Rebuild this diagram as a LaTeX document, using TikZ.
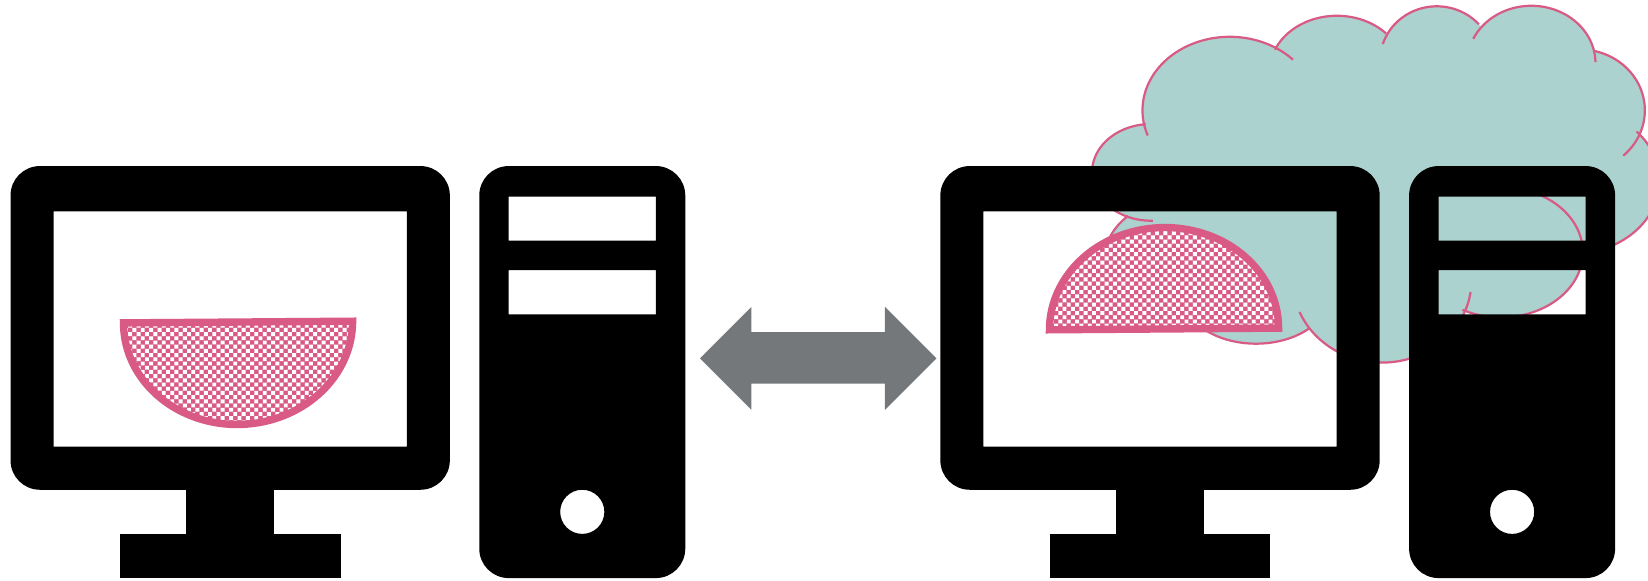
\documentclass[tikz,border=0pt]{standalone}
\definecolor{cloudteal}{HTML}{ABD2CF}
\definecolor{rosepink}{HTML}{D85A85}
\definecolor{arrowgray}{HTML}{75787A}
\tikzset{
  x=1pt,y=-1pt,
  lobeline/.style={draw=rosepink,line width=2.1pt,line cap=butt},
  lobefill/.style={fill=cloudteal,draw=none},
  device/.style={fill=black,even odd rule},
  rimline/.style={draw=rosepink,line width=7pt,line join=miter}
}
\newcommand{\Meshes}[2]{% x0,y0
  \fill[white] \foreach \i in {0,...,57}{\foreach \j in {0,...,28}{
    \ifodd\numexpr\i+\j\relax\else
      ({#1+4*\i},{#2+4*\j}) rectangle +(3.7,3.7)
    \fi}};
}
\begin{document}
\begin{tikzpicture}
\useasboundingbox (0,0) rectangle (1568,552.8);
\begin{scope}
\clip (0,0) rectangle (1568,552.8);
% cloud body
\fill[lobefill] (1100,130) -- (1230,60) -- (1320,45) -- (1410,40) -- (1510,60) -- (1540,150) -- (1550,180) -- (1500,250) -- (1400,290) -- (1315,330) -- (1240,300) -- (1200,290) -- (1080,260) -- (1070,200) -- (1060,150) -- cycle;
\foreach \cx/\cy/\rx/\ry/\aa/\ab in {
  1170/105/83/70/160/316.5,
  1272/68/64/53/203/317,
  1367/58/54/52/198/318,
  1457/60/61/54.5/205/359,
  1503/105/62/58/283/408,
  1494/172/85/70/318/425,
  1428/240/78/62/299/478,
  1315/267/85/78/8/157.5,
  1195/280/70/47/43/135,
  1115/250/65/58/170/230,
  1095/164/56/46/88/265}{
  \fill[lobefill] (\cx,\cy) ellipse[x radius=\rx pt,y radius=\ry pt];
}
\foreach \cx/\cy/\rx/\ry/\aa/\ab in {
  1170/105/83/70/160/316.5,
  1272/68/64/53/203/317,
  1367/58/54/52/198/318,
  1457/60/61/54.5/205/359,
  1503/105/62/58/283/408,
  1494/172/85/70/318/425,
  1428/240/78/62/299/478,
  1315/267/85/78/8/157.5,
  1195/280/70/47/43/135,
  1115/250/65/58/170/230,
  1095/164/56/46/88/265}{
  \path[lobeline] plot[domain=\aa:\ab,samples=60] ({\cx+\rx*cos(\x)},{\cy+\ry*sin(\x)});
}
\end{scope}
% computers
\foreach \dx in {0,884.7}{
\begin{scope}[shift={(\dx,0)}]
  \fill[device] [rounded corners=28pt] (10,158) rectangle (428,466) [sharp corners] (51,201) rectangle (387,425);
  \fill[black] (177,460) rectangle (261,510);
  \fill[black] (114,508) rectangle (324,550);
  \fill[device] [rounded corners=28pt] (456,158) rectangle (652,550) [sharp corners] (484,187) rectangle (624,229) (484,257) rectangle (624,299) (554,487) circle[radius=21pt];
\end{scope}}
% double arrow
\fill[arrowgray] (666,341) -- (715,292) -- (715,316) -- (842,316) -- (842,292) -- (891,341) -- (842,390) -- (842,365) -- (715,365) -- (715,390) -- cycle;
% left bowl
\newcommand{\BowlA}{plot[domain=0:180,samples=90] ({226.5+109*cos(\x)},{306.4-0.8*cos(\x)+97.5*sin(\x)}) -- cycle}
\fill[rosepink] \BowlA;
\begin{scope}
\clip \BowlA;
\Meshes{114}{300}
\end{scope}
\draw[rimline] \BowlA;
% right bowl
\newcommand{\BowlB}{plot[domain=180:360,samples=90] ({1107.5+109*cos(\x)},{313-0.8*cos(\x)+96.5*sin(\x)}) -- cycle}
\fill[rosepink] \BowlB;
\begin{scope}
\clip \BowlB;
\Meshes{995}{212}
\end{scope}
\draw[rimline] \BowlB;
\end{tikzpicture}
\end{document}
